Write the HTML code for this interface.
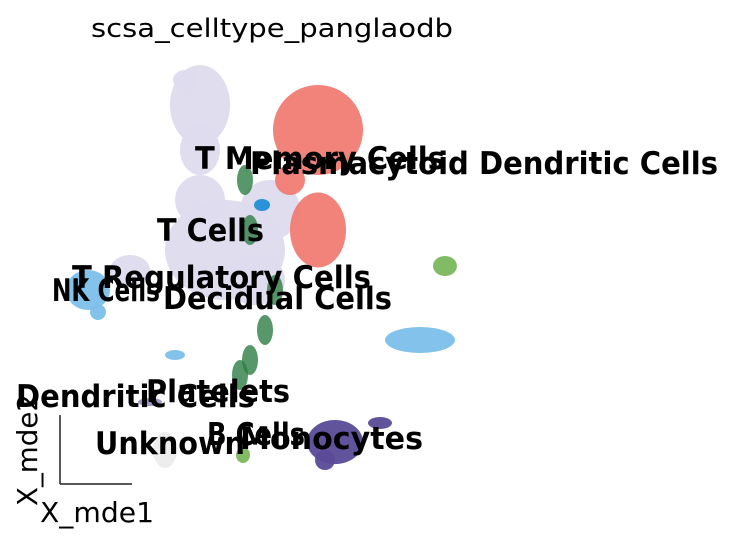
<!DOCTYPE html>
<html><head><meta charset="utf-8"><style>
html,body{margin:0;padding:0;background:#fff;}
svg{display:block;font-family:"DejaVu Sans","Liberation Sans",sans-serif;}
.lbl{font-weight:bold;font-size:31px;fill:#000;}
</style></head><body>
<svg id="chart" width="734" height="544" viewBox="0 0 734 544" xmlns="http://www.w3.org/2000/svg">
<text x="272" y="37" text-anchor="middle" font-size="26" textLength="362" lengthAdjust="spacingAndGlyphs">scsa_celltype_panglaodb</text>
<g id="points"></g>
<g>
<line x1="60" y1="415" x2="60" y2="484" stroke="#222" stroke-width="1.5"/>
<line x1="60" y1="484" x2="132" y2="484" stroke="#222" stroke-width="1.5"/>
<text x="40" y="522" font-size="28" textLength="114" lengthAdjust="spacingAndGlyphs">X_mde1</text>
<text transform="translate(37,506) rotate(-90)" font-size="28" textLength="112" lengthAdjust="spacingAndGlyphs">X_mde2</text>
</g>
<g>
<text class="lbl" x="195" y="169" textLength="250" lengthAdjust="spacingAndGlyphs">T Memory Cells</text>
<text class="lbl" x="250" y="174" textLength="468" lengthAdjust="spacingAndGlyphs">Plasmacytoid Dendritic Cells</text>
<text class="lbl" x="157" y="241" textLength="107" lengthAdjust="spacingAndGlyphs">T Cells</text>
<text class="lbl" x="72" y="288" textLength="299" lengthAdjust="spacingAndGlyphs">T Regulatory Cells</text>
<text class="lbl" x="52" y="301" textLength="108" lengthAdjust="spacingAndGlyphs">NK Cells</text>
<text class="lbl" x="163" y="309" textLength="229" lengthAdjust="spacingAndGlyphs">Decidual Cells</text>
<text class="lbl" x="146" y="402" textLength="144" lengthAdjust="spacingAndGlyphs">Platelets</text>
<text class="lbl" x="16" y="407" textLength="239" lengthAdjust="spacingAndGlyphs">Dendritic Cells</text>
<text class="lbl" x="207" y="445" textLength="98" lengthAdjust="spacingAndGlyphs">B Cells</text>
<text class="lbl" x="95" y="454" textLength="150" lengthAdjust="spacingAndGlyphs">Unknown</text>
<text class="lbl" x="240" y="449" textLength="183" lengthAdjust="spacingAndGlyphs">Monocytes</text>
</g>
</svg>
<script>
// cluster blobs in embedding data units
const clusterNames = ["t-cells","t-cells","t-cells","t-cells","t-cells","t-cells","t-cells","t-cells",
 "t-memory","t-memory","t-memory",
 "decidual","decidual","decidual","decidual","decidual","decidual",
 "nk","nk","nk","nk",
 "pdc","b-cells",
 "monocytes","monocytes","monocytes",
 "dendritic","unknown","t-regulatory"];
const blobX = [32,29,37,32,43,46,32,18, 55.6,55.6,50, 41,42,47,45,42,40, 9.6,11.6,76,27, 81,40.6, 59,68,57, 22,25,44.4];
const blobY = [79,84,50,60,44,58,70,46, 74,54,64, 64,54,42,34,28,25, 42,37.6,32,29, 46.8,9, 11.6,15.4,8, 19.6,10,59];
const blobRX = [6,2.4,12,5,6,6,4,4, 9,5.6,3, 1.6,1.6,1.6,1.6,1.6,1.6, 4.4,1.6,7,2, 2.4,1.4, 5.6,2.4,2, 2.4,2.4,1.6];
const blobRY = [8,2,10,5,5,6,5,3, 9,7.5,3, 3,3,3,3,3,3, 4,1.6,2.6,1, 2,1.6, 4.4,1.2,2, 0.8,3.6,1.2];
const colors = {"t-cells":"#dddbed","t-memory":"#f07c74","decidual":"#2e7d44","nk":"#7cc0ea","pdc":"#7ab85c","b-cells":"#7ab85c","monocytes":"#5a4a98","dendritic":"#9c93c8","unknown":"#ececec","t-regulatory":"#1f8dd6"};
const xS = v => 40 + v*5;
const yS = v => 500 - v*5;
const rS = v => v*5;
const g = document.getElementById('points');
const NS = "http://www.w3.org/2000/svg";
blobX.forEach((x,i)=>{
  const e = document.createElementNS(NS,'ellipse');
  
  
  e.setAttribute('cx', xS(x));
  e.setAttribute('cy', yS(blobY[i]));
  e.setAttribute('rx', rS(blobRX[i]));
  e.setAttribute('ry', rS(blobRY[i]));
  e.setAttribute('fill', colors[clusterNames[i]]);
  e.setAttribute('opacity', clusterNames[i]==="decidual" ? 0.8 : 0.95);
  g.appendChild(e);
});
</script>
</body></html>
